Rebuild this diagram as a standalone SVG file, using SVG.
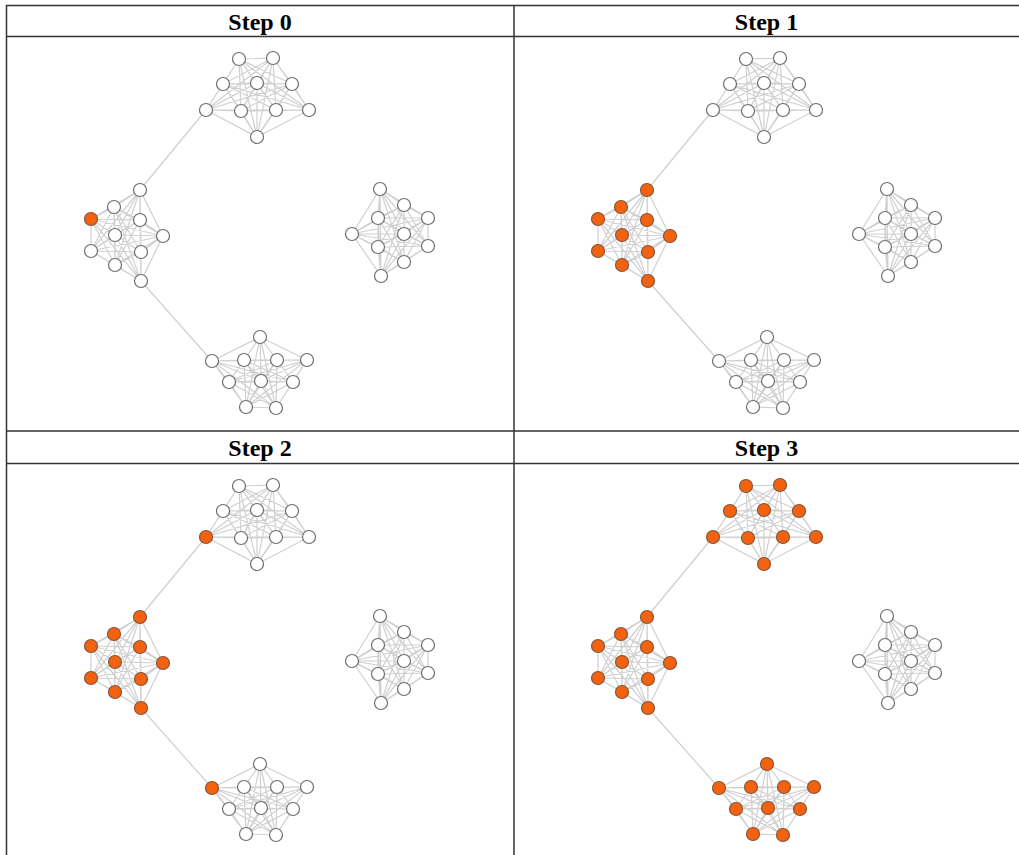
<svg xmlns="http://www.w3.org/2000/svg" xmlns:xlink="http://www.w3.org/1999/xlink" width="1019" height="855" viewBox="0 0 1019 855">
<style>
.grid{stroke:#333;stroke-width:1.5;fill:none}
.title{font-family:"Liberation Serif","Times New Roman",serif;font-weight:bold;font-size:24px;fill:#000;text-anchor:middle}
.e{fill:none;stroke:#d0d0d0;stroke-width:1.2}
.w circle{fill:#fff;stroke:#6e6e6e;stroke-width:1.2}
.o circle{fill:#f4620f;stroke:#85573c;stroke-width:1.2}
</style>
<defs>
<g id="edgeset">
<path class="e" d="M239 59L273 58M239 59L223 84M239 59L257 83M239 59L292 84M239 59L206 110M239 59L241 111M239 59L276 110M239 59L309 110M239 59L257 137M273 58L223 84M273 58L257 83M273 58L292 84M273 58L206 110M273 58L241 111M273 58L276 110M273 58L309 110M273 58L257 137M223 84L257 83M223 84L292 84M223 84L206 110M223 84L241 111M223 84L276 110M223 84L309 110M223 84L257 137M257 83L292 84M257 83L206 110M257 83L241 111M257 83L276 110M257 83L309 110M257 83L257 137M292 84L206 110M292 84L241 111M292 84L276 110M292 84L309 110M292 84L257 137M206 110L241 111M206 110L276 110M206 110L309 110M206 110L257 137M241 111L276 110M241 111L309 110M241 111L257 137M276 110L309 110M276 110L257 137M309 110L257 137"/>
<path class="e" d="M140 190L114 207M140 190L91 219M140 190L140 220M140 190L115 235M140 190L163 236M140 190L91 251M140 190L141 252M140 190L115 265M140 190L141 281M114 207L91 219M114 207L140 220M114 207L115 235M114 207L163 236M114 207L91 251M114 207L141 252M114 207L115 265M114 207L141 281M91 219L140 220M91 219L115 235M91 219L163 236M91 219L91 251M91 219L141 252M91 219L115 265M91 219L141 281M140 220L115 235M140 220L163 236M140 220L91 251M140 220L141 252M140 220L115 265M140 220L141 281M115 235L163 236M115 235L91 251M115 235L141 252M115 235L115 265M115 235L141 281M163 236L91 251M163 236L141 252M163 236L115 265M163 236L141 281M91 251L141 252M91 251L115 265M91 251L141 281M141 252L115 265M141 252L141 281M115 265L141 281"/>
<path class="e" d="M380 189L404 205M380 189L428 218M380 189L378 218M380 189L352 234M380 189L404 234M380 189L378 247M380 189L428 246M380 189L404 262M380 189L381 276M404 205L428 218M404 205L378 218M404 205L352 234M404 205L404 234M404 205L378 247M404 205L428 246M404 205L404 262M404 205L381 276M428 218L378 218M428 218L352 234M428 218L404 234M428 218L378 247M428 218L428 246M428 218L404 262M428 218L381 276M378 218L352 234M378 218L404 234M378 218L378 247M378 218L428 246M378 218L404 262M378 218L381 276M352 234L404 234M352 234L378 247M352 234L428 246M352 234L404 262M352 234L381 276M404 234L378 247M404 234L428 246M404 234L404 262M404 234L381 276M378 247L428 246M378 247L404 262M378 247L381 276M428 246L404 262M428 246L381 276M404 262L381 276"/>
<path class="e" d="M260 337L212 361M260 337L244 360M260 337L277 360M260 337L307 360M260 337L229 382M260 337L261 381M260 337L293 382M260 337L246 407M260 337L276 408M212 361L244 360M212 361L277 360M212 361L307 360M212 361L229 382M212 361L261 381M212 361L293 382M212 361L246 407M212 361L276 408M244 360L277 360M244 360L307 360M244 360L229 382M244 360L261 381M244 360L293 382M244 360L246 407M244 360L276 408M277 360L307 360M277 360L229 382M277 360L261 381M277 360L293 382M277 360L246 407M277 360L276 408M307 360L229 382M307 360L261 381M307 360L293 382M307 360L246 407M307 360L276 408M229 382L261 381M229 382L293 382M229 382L246 407M229 382L276 408M261 381L293 382M261 381L246 407M261 381L276 408M293 382L246 407M293 382L276 408M246 407L276 408"/>
<path class="e" d="M206 110L140 190M141 281L212 361"/>
</g>
</defs>
<rect width="1019" height="855" fill="#fff"/>
<g id="grid">
<path class="grid" d="M6 5.5H1019M6 36.5H1019M6 431H1019M6 463.5H1019M6.5 5V855M514 5V855"/>
</g>
<g id="titles">
<text class="title" x="260" y="30">Step 0</text>
<text class="title" x="766.5" y="30">Step 1</text>
<text class="title" x="260" y="456">Step 2</text>
<text class="title" x="766.5" y="456">Step 3</text>
</g>
<g id="connectors">
<use xlink:href="#edgeset"/>
<use xlink:href="#edgeset" transform="translate(507,0)"/>
<use xlink:href="#edgeset" transform="translate(0,427)"/>
<use xlink:href="#edgeset" transform="translate(507,427)"/>
</g>
<g id="panel0">
<g id="p0-T1" class="w"><circle cx="239" cy="59" r="6.5"/></g>
<g id="p0-T2" class="w"><circle cx="273" cy="58" r="6.5"/></g>
<g id="p0-T3" class="w"><circle cx="223" cy="84" r="6.5"/></g>
<g id="p0-T4" class="w"><circle cx="257" cy="83" r="6.5"/></g>
<g id="p0-T5" class="w"><circle cx="292" cy="84" r="6.5"/></g>
<g id="p0-T6" class="w"><circle cx="206" cy="110" r="6.5"/></g>
<g id="p0-T7" class="w"><circle cx="241" cy="111" r="6.5"/></g>
<g id="p0-T8" class="w"><circle cx="276" cy="110" r="6.5"/></g>
<g id="p0-T9" class="w"><circle cx="309" cy="110" r="6.5"/></g>
<g id="p0-T10" class="w"><circle cx="257" cy="137" r="6.5"/></g>
<g id="p0-L1" class="w"><circle cx="140" cy="190" r="6.5"/></g>
<g id="p0-L2" class="w"><circle cx="114" cy="207" r="6.5"/></g>
<g id="p0-L3" class="o"><circle cx="91" cy="219" r="6.5"/></g>
<g id="p0-L4" class="w"><circle cx="140" cy="220" r="6.5"/></g>
<g id="p0-L5" class="w"><circle cx="115" cy="235" r="6.5"/></g>
<g id="p0-L6" class="w"><circle cx="163" cy="236" r="6.5"/></g>
<g id="p0-L7" class="w"><circle cx="91" cy="251" r="6.5"/></g>
<g id="p0-L8" class="w"><circle cx="141" cy="252" r="6.5"/></g>
<g id="p0-L9" class="w"><circle cx="115" cy="265" r="6.5"/></g>
<g id="p0-L10" class="w"><circle cx="141" cy="281" r="6.5"/></g>
<g id="p0-R1" class="w"><circle cx="380" cy="189" r="6.5"/></g>
<g id="p0-R2" class="w"><circle cx="404" cy="205" r="6.5"/></g>
<g id="p0-R3" class="w"><circle cx="428" cy="218" r="6.5"/></g>
<g id="p0-R4" class="w"><circle cx="378" cy="218" r="6.5"/></g>
<g id="p0-R5" class="w"><circle cx="352" cy="234" r="6.5"/></g>
<g id="p0-R6" class="w"><circle cx="404" cy="234" r="6.5"/></g>
<g id="p0-R7" class="w"><circle cx="378" cy="247" r="6.5"/></g>
<g id="p0-R8" class="w"><circle cx="428" cy="246" r="6.5"/></g>
<g id="p0-R9" class="w"><circle cx="404" cy="262" r="6.5"/></g>
<g id="p0-R10" class="w"><circle cx="381" cy="276" r="6.5"/></g>
<g id="p0-B1" class="w"><circle cx="260" cy="337" r="6.5"/></g>
<g id="p0-B2" class="w"><circle cx="212" cy="361" r="6.5"/></g>
<g id="p0-B3" class="w"><circle cx="244" cy="360" r="6.5"/></g>
<g id="p0-B4" class="w"><circle cx="277" cy="360" r="6.5"/></g>
<g id="p0-B5" class="w"><circle cx="307" cy="360" r="6.5"/></g>
<g id="p0-B6" class="w"><circle cx="229" cy="382" r="6.5"/></g>
<g id="p0-B7" class="w"><circle cx="261" cy="381" r="6.5"/></g>
<g id="p0-B8" class="w"><circle cx="293" cy="382" r="6.5"/></g>
<g id="p0-B9" class="w"><circle cx="246" cy="407" r="6.5"/></g>
<g id="p0-B10" class="w"><circle cx="276" cy="408" r="6.5"/></g>
</g>
<g id="panel1" transform="translate(507,0)">
<g id="p1-T1" class="w"><circle cx="239" cy="59" r="6.5"/></g>
<g id="p1-T2" class="w"><circle cx="273" cy="58" r="6.5"/></g>
<g id="p1-T3" class="w"><circle cx="223" cy="84" r="6.5"/></g>
<g id="p1-T4" class="w"><circle cx="257" cy="83" r="6.5"/></g>
<g id="p1-T5" class="w"><circle cx="292" cy="84" r="6.5"/></g>
<g id="p1-T6" class="w"><circle cx="206" cy="110" r="6.5"/></g>
<g id="p1-T7" class="w"><circle cx="241" cy="111" r="6.5"/></g>
<g id="p1-T8" class="w"><circle cx="276" cy="110" r="6.5"/></g>
<g id="p1-T9" class="w"><circle cx="309" cy="110" r="6.5"/></g>
<g id="p1-T10" class="w"><circle cx="257" cy="137" r="6.5"/></g>
<g id="p1-L1" class="o"><circle cx="140" cy="190" r="6.5"/></g>
<g id="p1-L2" class="o"><circle cx="114" cy="207" r="6.5"/></g>
<g id="p1-L3" class="o"><circle cx="91" cy="219" r="6.5"/></g>
<g id="p1-L4" class="o"><circle cx="140" cy="220" r="6.5"/></g>
<g id="p1-L5" class="o"><circle cx="115" cy="235" r="6.5"/></g>
<g id="p1-L6" class="o"><circle cx="163" cy="236" r="6.5"/></g>
<g id="p1-L7" class="o"><circle cx="91" cy="251" r="6.5"/></g>
<g id="p1-L8" class="o"><circle cx="141" cy="252" r="6.5"/></g>
<g id="p1-L9" class="o"><circle cx="115" cy="265" r="6.5"/></g>
<g id="p1-L10" class="o"><circle cx="141" cy="281" r="6.5"/></g>
<g id="p1-R1" class="w"><circle cx="380" cy="189" r="6.5"/></g>
<g id="p1-R2" class="w"><circle cx="404" cy="205" r="6.5"/></g>
<g id="p1-R3" class="w"><circle cx="428" cy="218" r="6.5"/></g>
<g id="p1-R4" class="w"><circle cx="378" cy="218" r="6.5"/></g>
<g id="p1-R5" class="w"><circle cx="352" cy="234" r="6.5"/></g>
<g id="p1-R6" class="w"><circle cx="404" cy="234" r="6.5"/></g>
<g id="p1-R7" class="w"><circle cx="378" cy="247" r="6.5"/></g>
<g id="p1-R8" class="w"><circle cx="428" cy="246" r="6.5"/></g>
<g id="p1-R9" class="w"><circle cx="404" cy="262" r="6.5"/></g>
<g id="p1-R10" class="w"><circle cx="381" cy="276" r="6.5"/></g>
<g id="p1-B1" class="w"><circle cx="260" cy="337" r="6.5"/></g>
<g id="p1-B2" class="w"><circle cx="212" cy="361" r="6.5"/></g>
<g id="p1-B3" class="w"><circle cx="244" cy="360" r="6.5"/></g>
<g id="p1-B4" class="w"><circle cx="277" cy="360" r="6.5"/></g>
<g id="p1-B5" class="w"><circle cx="307" cy="360" r="6.5"/></g>
<g id="p1-B6" class="w"><circle cx="229" cy="382" r="6.5"/></g>
<g id="p1-B7" class="w"><circle cx="261" cy="381" r="6.5"/></g>
<g id="p1-B8" class="w"><circle cx="293" cy="382" r="6.5"/></g>
<g id="p1-B9" class="w"><circle cx="246" cy="407" r="6.5"/></g>
<g id="p1-B10" class="w"><circle cx="276" cy="408" r="6.5"/></g>
</g>
<g id="panel2" transform="translate(0,427)">
<g id="p2-T1" class="w"><circle cx="239" cy="59" r="6.5"/></g>
<g id="p2-T2" class="w"><circle cx="273" cy="58" r="6.5"/></g>
<g id="p2-T3" class="w"><circle cx="223" cy="84" r="6.5"/></g>
<g id="p2-T4" class="w"><circle cx="257" cy="83" r="6.5"/></g>
<g id="p2-T5" class="w"><circle cx="292" cy="84" r="6.5"/></g>
<g id="p2-T6" class="o"><circle cx="206" cy="110" r="6.5"/></g>
<g id="p2-T7" class="w"><circle cx="241" cy="111" r="6.5"/></g>
<g id="p2-T8" class="w"><circle cx="276" cy="110" r="6.5"/></g>
<g id="p2-T9" class="w"><circle cx="309" cy="110" r="6.5"/></g>
<g id="p2-T10" class="w"><circle cx="257" cy="137" r="6.5"/></g>
<g id="p2-L1" class="o"><circle cx="140" cy="190" r="6.5"/></g>
<g id="p2-L2" class="o"><circle cx="114" cy="207" r="6.5"/></g>
<g id="p2-L3" class="o"><circle cx="91" cy="219" r="6.5"/></g>
<g id="p2-L4" class="o"><circle cx="140" cy="220" r="6.5"/></g>
<g id="p2-L5" class="o"><circle cx="115" cy="235" r="6.5"/></g>
<g id="p2-L6" class="o"><circle cx="163" cy="236" r="6.5"/></g>
<g id="p2-L7" class="o"><circle cx="91" cy="251" r="6.5"/></g>
<g id="p2-L8" class="o"><circle cx="141" cy="252" r="6.5"/></g>
<g id="p2-L9" class="o"><circle cx="115" cy="265" r="6.5"/></g>
<g id="p2-L10" class="o"><circle cx="141" cy="281" r="6.5"/></g>
<g id="p2-R1" class="w"><circle cx="380" cy="189" r="6.5"/></g>
<g id="p2-R2" class="w"><circle cx="404" cy="205" r="6.5"/></g>
<g id="p2-R3" class="w"><circle cx="428" cy="218" r="6.5"/></g>
<g id="p2-R4" class="w"><circle cx="378" cy="218" r="6.5"/></g>
<g id="p2-R5" class="w"><circle cx="352" cy="234" r="6.5"/></g>
<g id="p2-R6" class="w"><circle cx="404" cy="234" r="6.5"/></g>
<g id="p2-R7" class="w"><circle cx="378" cy="247" r="6.5"/></g>
<g id="p2-R8" class="w"><circle cx="428" cy="246" r="6.5"/></g>
<g id="p2-R9" class="w"><circle cx="404" cy="262" r="6.5"/></g>
<g id="p2-R10" class="w"><circle cx="381" cy="276" r="6.5"/></g>
<g id="p2-B1" class="w"><circle cx="260" cy="337" r="6.5"/></g>
<g id="p2-B2" class="o"><circle cx="212" cy="361" r="6.5"/></g>
<g id="p2-B3" class="w"><circle cx="244" cy="360" r="6.5"/></g>
<g id="p2-B4" class="w"><circle cx="277" cy="360" r="6.5"/></g>
<g id="p2-B5" class="w"><circle cx="307" cy="360" r="6.5"/></g>
<g id="p2-B6" class="w"><circle cx="229" cy="382" r="6.5"/></g>
<g id="p2-B7" class="w"><circle cx="261" cy="381" r="6.5"/></g>
<g id="p2-B8" class="w"><circle cx="293" cy="382" r="6.5"/></g>
<g id="p2-B9" class="w"><circle cx="246" cy="407" r="6.5"/></g>
<g id="p2-B10" class="w"><circle cx="276" cy="408" r="6.5"/></g>
</g>
<g id="panel3" transform="translate(507,427)">
<g id="p3-T1" class="o"><circle cx="239" cy="59" r="6.5"/></g>
<g id="p3-T2" class="o"><circle cx="273" cy="58" r="6.5"/></g>
<g id="p3-T3" class="o"><circle cx="223" cy="84" r="6.5"/></g>
<g id="p3-T4" class="o"><circle cx="257" cy="83" r="6.5"/></g>
<g id="p3-T5" class="o"><circle cx="292" cy="84" r="6.5"/></g>
<g id="p3-T6" class="o"><circle cx="206" cy="110" r="6.5"/></g>
<g id="p3-T7" class="o"><circle cx="241" cy="111" r="6.5"/></g>
<g id="p3-T8" class="o"><circle cx="276" cy="110" r="6.5"/></g>
<g id="p3-T9" class="o"><circle cx="309" cy="110" r="6.5"/></g>
<g id="p3-T10" class="o"><circle cx="257" cy="137" r="6.5"/></g>
<g id="p3-L1" class="o"><circle cx="140" cy="190" r="6.5"/></g>
<g id="p3-L2" class="o"><circle cx="114" cy="207" r="6.5"/></g>
<g id="p3-L3" class="o"><circle cx="91" cy="219" r="6.5"/></g>
<g id="p3-L4" class="o"><circle cx="140" cy="220" r="6.5"/></g>
<g id="p3-L5" class="o"><circle cx="115" cy="235" r="6.5"/></g>
<g id="p3-L6" class="o"><circle cx="163" cy="236" r="6.5"/></g>
<g id="p3-L7" class="o"><circle cx="91" cy="251" r="6.5"/></g>
<g id="p3-L8" class="o"><circle cx="141" cy="252" r="6.5"/></g>
<g id="p3-L9" class="o"><circle cx="115" cy="265" r="6.5"/></g>
<g id="p3-L10" class="o"><circle cx="141" cy="281" r="6.5"/></g>
<g id="p3-R1" class="w"><circle cx="380" cy="189" r="6.5"/></g>
<g id="p3-R2" class="w"><circle cx="404" cy="205" r="6.5"/></g>
<g id="p3-R3" class="w"><circle cx="428" cy="218" r="6.5"/></g>
<g id="p3-R4" class="w"><circle cx="378" cy="218" r="6.5"/></g>
<g id="p3-R5" class="w"><circle cx="352" cy="234" r="6.5"/></g>
<g id="p3-R6" class="w"><circle cx="404" cy="234" r="6.5"/></g>
<g id="p3-R7" class="w"><circle cx="378" cy="247" r="6.5"/></g>
<g id="p3-R8" class="w"><circle cx="428" cy="246" r="6.5"/></g>
<g id="p3-R9" class="w"><circle cx="404" cy="262" r="6.5"/></g>
<g id="p3-R10" class="w"><circle cx="381" cy="276" r="6.5"/></g>
<g id="p3-B1" class="o"><circle cx="260" cy="337" r="6.5"/></g>
<g id="p3-B2" class="o"><circle cx="212" cy="361" r="6.5"/></g>
<g id="p3-B3" class="o"><circle cx="244" cy="360" r="6.5"/></g>
<g id="p3-B4" class="o"><circle cx="277" cy="360" r="6.5"/></g>
<g id="p3-B5" class="o"><circle cx="307" cy="360" r="6.5"/></g>
<g id="p3-B6" class="o"><circle cx="229" cy="382" r="6.5"/></g>
<g id="p3-B7" class="o"><circle cx="261" cy="381" r="6.5"/></g>
<g id="p3-B8" class="o"><circle cx="293" cy="382" r="6.5"/></g>
<g id="p3-B9" class="o"><circle cx="246" cy="407" r="6.5"/></g>
<g id="p3-B10" class="o"><circle cx="276" cy="408" r="6.5"/></g>
</g>
</svg>
